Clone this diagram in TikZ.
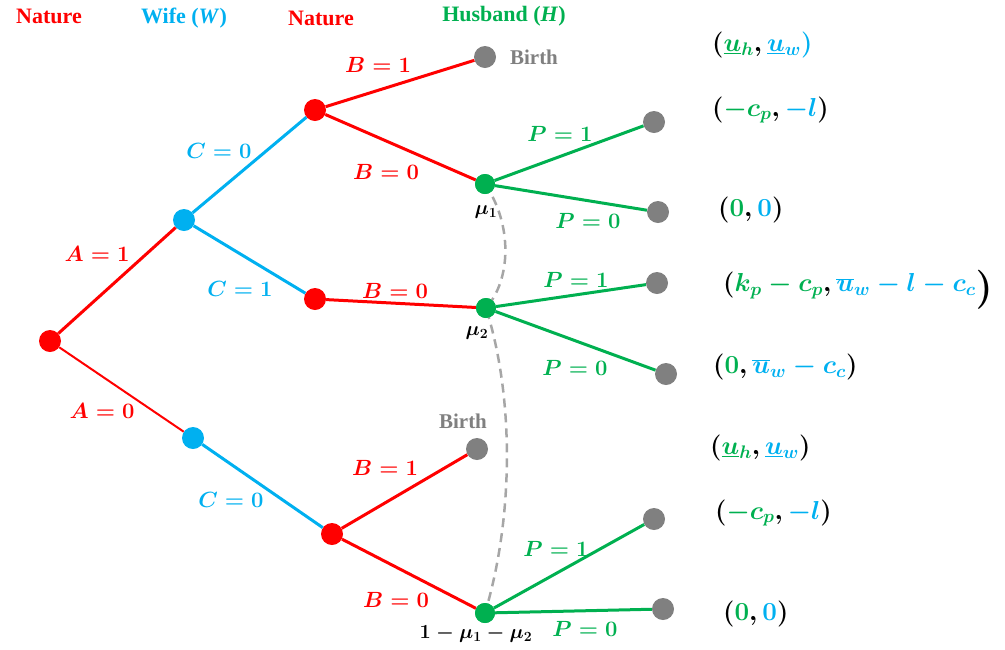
\RequirePackage{fix-cm}
\documentclass[tikz,border=0pt]{standalone}
\usepackage[no-math]{fontspec}
\newfontfamily\hdrfont{Liberation Serif}
\definecolor{natred}{HTML}{FF0000}
\definecolor{wblue}{HTML}{00B0F0}
\definecolor{hgreen}{HTML}{00B050}
\definecolor{tgray}{HTML}{808080}
\definecolor{dgray}{HTML}{A6A6A6}
\newcommand\bigclosep{\mathclose{\raisebox{-8pt}{\fontsize{39}{40}\selectfont$)$}}}
\tikzset{
  dotnode/.style={circle,inner sep=0pt,minimum size=22pt,fill=#1},
  hdr/.style={font=\hdrfont\fontsize{22}{26}\selectfont\bfseries,text=#1},
  lab/.style={font=\fontsize{22}{26}\selectfont\boldmath,text=#1,inner sep=0pt},
  pay/.style={font=\fontsize{26}{30}\selectfont\boldmath,anchor=west,inner sep=0pt},
  mulab/.style={font=\fontsize{20}{24}\selectfont\boldmath,inner sep=0pt},
  birthlab/.style={font=\hdrfont\fontsize{21}{25}\selectfont\bfseries,text=tgray,inner sep=0pt},
  edg/.style={line width=3pt,draw=#1},
}
\begin{document}
\begin{tikzpicture}[x=1pt,y=-1pt]
\useasboundingbox (0,0) rectangle (1005,649);
% headers
\node[hdr=natred] (h-nat1) at (49,16) {Nature};
\node[hdr=wblue] (h-wife) at (184,18) {Wife (\textit{W})};
\node[hdr=natred] (h-nat2) at (321,18) {Nature};
\node[hdr=hgreen] (h-hus) at (504,16) {Husband (\textit{H})};
% decision nodes
\node[dotnode=natred] (root) at (50,341) {};
\node[dotnode=wblue] (w1) at (184,220) {};
\node[dotnode=wblue] (w2) at (193,438) {};
\node[dotnode=natred] (n1) at (315,110) {};
\node[dotnode=natred] (n2) at (315,299) {};
\node[dotnode=natred] (n3) at (332,534) {};
\node[dotnode=tgray] (b1) at (485,57) {};
\node[dotnode=hgreen,minimum size=20pt] (hu1) at (485,184) {};
\node[dotnode=hgreen,minimum size=20pt] (hu2) at (486,308) {};
\node[dotnode=tgray] (b2) at (477,449) {};
\node[dotnode=hgreen,minimum size=20pt] (hu3) at (485,613) {};
\node[dotnode=tgray] (t1) at (654,122) {};
\node[dotnode=tgray] (t2) at (658,212) {};
\node[dotnode=tgray] (t3) at (657,283) {};
\node[dotnode=tgray] (t4) at (666,374) {};
\node[dotnode=tgray] (t5) at (654,519) {};
\node[dotnode=tgray] (t6) at (663,609) {};
% dashed information set
\draw[draw=dgray,line width=2.5pt,dash pattern=on 9pt off 6pt] (hu1.center) .. controls (513,225) and (511,280) .. (hu2.center) .. controls (515,400) and (513,520) .. (hu3.center);
\node[dotnode=hgreen,minimum size=20pt] at (hu1) {};
\node[dotnode=hgreen,minimum size=20pt] at (hu2) {};
\node[dotnode=hgreen,minimum size=20pt] at (hu3) {};
% edges
\draw[edg=natred] (root) -- (w1);
\draw[edg=natred,line width=2pt] (root) -- (w2);
\draw[edg=wblue] (w1) -- (n1);
\draw[edg=wblue] (w1) -- (n2);
\draw[edg=wblue] (w2) -- (n3);
\draw[edg=natred] (n1) -- (b1);
\draw[edg=natred] (n1) -- (hu1);
\draw[edg=natred] (n2) -- (hu2);
\draw[edg=natred] (n3) -- (b2);
\draw[edg=natred] (n3) -- (hu3);
\draw[edg=hgreen] (hu1) -- (t1);
\draw[edg=hgreen] (hu1) -- (t2);
\draw[edg=hgreen] (hu2) -- (t3);
\draw[edg=hgreen] (hu2) -- (t4);
\draw[edg=hgreen] (hu3) -- (t5);
\draw[edg=hgreen] (hu3) -- (t6);
% edge labels
\node[lab=natred] (lA1) at (97,254) {$A=1$};
\node[lab=natred] (lA0) at (102,411) {$A=0$};
\node[lab=wblue] (lC0a) at (219,151) {$C=0$};
\node[lab=wblue] (lC1) at (240,289) {$C=1$};
\node[lab=wblue] (lC0b) at (231,500) {$C=0$};
\node[lab=natred] (lB1a) at (378,65) {$B=1$};
\node[lab=natred] (lB0a) at (386,172) {$B=0$};
\node[lab=natred] (lB0b) at (395,291) {$B=0$};
\node[lab=natred] (lB1b) at (385,468) {$B=1$};
\node[lab=natred] (lB0c) at (396,600) {$B=0$};
\node[lab=hgreen] (lP1a) at (560,134) {$P=1$};
\node[lab=hgreen] (lP0a) at (588,221) {$P=0$};
\node[lab=hgreen] (lP1b) at (576,280) {$P=1$};
\node[lab=hgreen] (lP0b) at (575,368) {$P=0$};
\node[lab=hgreen] (lP1c) at (556,549) {$P=1$};
\node[lab=hgreen] (lP0c) at (585,629) {$P=0$};
% belief labels
\node[mulab] (mu1) at (486,212) {$\mu_1$};
\node[mulab] (mu2) at (477,333) {$\mu_2$};
\node[mulab] (mu3) at (476,634) {$1-\mu_1-\mu_2$};
% birth labels
\node[birthlab] (bl1) at (534,57) {Birth};
\node[birthlab] (bl2) at (463,421) {Birth};
% payoffs
\node[pay] (p0) at (712,45) {$({\color{hgreen}\underline{u}_h},{\color{wblue}\underline{u}_w)}$};
\node[pay] (p1) at (712,110) {$({\color{hgreen}-c_p},{\color{wblue}-l})$};
\node[pay] (p2) at (718,210) {$({\color{hgreen}0},{\color{wblue}0})$};
\node[pay] (p3) at (723,290) {$({\color{hgreen}k_p-c_p},{\color{wblue}\overline{u}_w-l-c_c}\bigclosep$};
\node[pay] (p4) at (713,367) {$({\color{hgreen}0},{\color{wblue}\overline{u}_w-c_c})$};
\node[pay] (p5) at (710,448) {$({\color{hgreen}\underline{u}_h},{\color{wblue}\underline{u}_w})$};
\node[pay] (p6) at (715,513) {$({\color{hgreen}-c_p},{\color{wblue}-l})$};
\node[pay] (p7) at (723,614) {$({\color{hgreen}0},{\color{wblue}0})$};
\end{tikzpicture}
\end{document}
